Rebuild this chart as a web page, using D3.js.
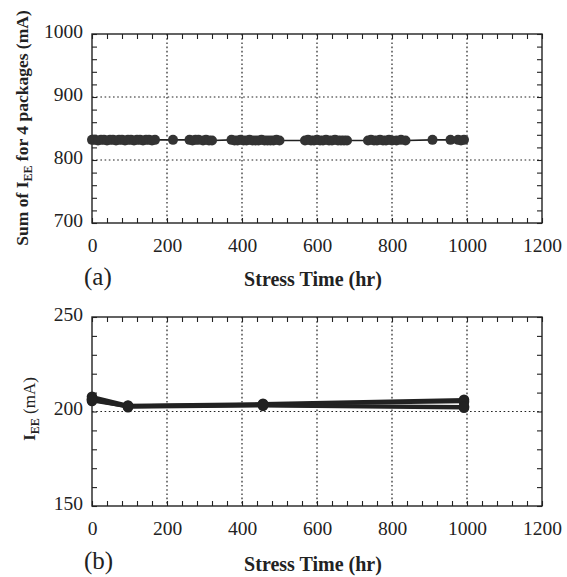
<!DOCTYPE html>
<html>
<head>
<meta charset="utf-8">
<script src="https://cdn.jsdelivr.net/npm/d3@7"></script>
<style>
  body { margin: 0; background: #fff; }
  svg { display: block; }
  text { font-family: "Liberation Serif", "Times New Roman", serif; fill: #222; }
</style>
</head>
<body>
<svg id="chart" width="567" height="577"></svg>
<script>
// ---- Data ----
// Panel (a): stress time (hr) and sum of IEE for 4 packages (mA)
const timeA = [0, 8, 16, 24, 32, 40, 48, 56, 64, 72, 80, 88, 96, 104, 112, 120, 128, 136, 144, 152, 160, 168,
  216,
  260, 268, 276, 284, 296, 304, 312, 320,
  372, 380, 388, 396, 404, 412, 420, 428, 436, 444, 452, 460, 468, 476, 484, 492, 500,
  568, 576, 584, 592, 600, 608, 616, 624, 632, 640, 648, 656, 664, 672, 680,
  736, 744, 752, 760, 768, 776, 784, 792, 800, 812, 824, 836,
  908, 956, 976, 984, 992];
const sumIEE = [832, 832, 831, 832, 832, 831, 832, 832, 831, 832, 832, 831, 832, 832, 831, 832, 832, 831, 832, 832, 831, 832,
  832,
  832, 831, 832, 832, 831, 832, 831, 831,
  832, 831, 831, 832, 831, 831, 832, 831, 831, 831, 832, 831, 831, 831, 831, 832, 831,
  831, 832, 831, 831, 832, 831, 831, 832, 831, 831, 832, 831, 831, 831, 831,
  831, 832, 831, 831, 832, 831, 831, 832, 831, 831, 832, 831,
  832, 832, 832, 831, 832];

// Panel (b): stress time (hr) and IEE per package (mA)
const timeB = [0, 96, 456, 992];
const pkg1 = [207.8, 203.2, 204.1, 206.2];
const pkg2 = [206.6, 202.9, 203.8, 205.2];
const pkg3 = [205.6, 202.6, 203.3, 202.6];
const pkg4 = [206.2, 202.3, 203.0, 202.0];
const seriesB = [pkg1, pkg2, pkg3, pkg4];

// Tick labels
const xTicks = [0, 200, 400, 600, 800, 1000, 1200];
const yTicksA = [700, 800, 900, 1000];
const yTicksB = [150, 200, 250];

// ---- Drawing ----
const svg = d3.select("#chart");
const ink = "#222";

function panel(cfg) {
  const x = d3.scaleLinear().domain([0, 1200]).range([92, 542]);
  const y = d3.scaleLinear().domain(cfg.yDomain).range([cfg.bottom, cfg.top]);
  const g = svg.append("g");

  // grid lines (dotted)
  g.selectAll(".gx").data(xTicks.slice(1, -1)).join("line")
    .attr("x1", d => x(d)).attr("x2", d => x(d))
    .attr("y1", cfg.top).attr("y2", cfg.bottom)
    .attr("stroke", ink).attr("stroke-width", 1.2).attr("stroke-dasharray", "1.6,2.6");
  g.selectAll(".gy").data(cfg.yGrid).join("line")
    .attr("x1", x(0)).attr("x2", x(1200))
    .attr("y1", d => y(d)).attr("y2", d => y(d))
    .attr("stroke", ink).attr("stroke-width", 1.2).attr("stroke-dasharray", "1.6,2.6");

  // minor ticks, inward on all four sides
  const minorX = d3.range(0, 1201, 40);
  const minorY = d3.range(cfg.yDomain[0], cfg.yDomain[1] + 0.001, cfg.yMinor);
  const axStyle = sel => { sel.select(".domain").remove(); sel.selectAll("line").attr("stroke", ink).attr("stroke-width", 1.1); sel.selectAll("text").remove(); };
  g.append("g").attr("transform", `translate(0,${cfg.bottom})`)
    .call(d3.axisBottom(x).tickValues(minorX).tickSize(-5)).call(axStyle);
  g.append("g").attr("transform", `translate(0,${cfg.top})`)
    .call(d3.axisTop(x).tickValues(minorX).tickSize(-5)).call(axStyle);
  g.append("g").attr("transform", `translate(${x(0)},0)`)
    .call(d3.axisLeft(y).tickValues(minorY).tickSize(-5)).call(axStyle);
  g.append("g").attr("transform", `translate(${x(1200)},0)`)
    .call(d3.axisRight(y).tickValues(minorY).tickSize(-5)).call(axStyle);

  // frame
  g.append("rect").attr("x", x(0)).attr("y", cfg.top)
    .attr("width", x(1200) - x(0)).attr("height", cfg.bottom - cfg.top)
    .attr("fill", "none").attr("stroke", ink).attr("stroke-width", 1.4);

  // tick labels
  const xl = g.append("g").attr("transform", `translate(0,${cfg.bottom})`)
    .call(d3.axisBottom(x).tickValues(xTicks).tickSize(0).tickPadding(0).tickFormat(d3.format("d")));
  xl.select(".domain").remove();
  xl.selectAll("text").attr("dy", null).attr("y", cfg.xLabelY - cfg.bottom)
    .style("font-size", "19.5px").attr("fill", ink).style("font-family", "'Liberation Serif', serif");
  const yl = g.append("g").attr("transform", `translate(${x(0)},0)`)
    .call(d3.axisLeft(y).tickValues(cfg.yTicks).tickSize(0).tickPadding(9).tickFormat(d3.format("d")));
  yl.select(".domain").remove();
  yl.selectAll("text").attr("dy", "0.32em").attr("y", -3)
    .style("font-size", "19.5px").attr("fill", ink).style("font-family", "'Liberation Serif', serif");

  // axis title
  svg.append("text").attr("x", 313).attr("y", cfg.titleY).attr("text-anchor", "middle")
    .style("font-size", "20px").style("font-weight", "bold").text("Stress Time (hr)");
  // panel tag
  svg.append("text").attr("x", 84).attr("y", cfg.tagY)
    .style("font-size", "25px").text(cfg.tag);

  return { x, y, g };
}

// Panel (a)
const A = panel({ top: 34, bottom: 223, yDomain: [700, 1000], yGrid: [800, 900], yMinor: 20,
  yTicks: yTicksA, xLabelY: 252, titleY: 286, tagY: 285, tag: "(a)" });
const dataA = timeA.map((t, i) => ({ t, v: sumIEE[i] }));
A.g.append("path").datum(dataA)
  .attr("d", d3.line().x(d => A.x(d.t)).y(d => A.y(d.v)))
  .attr("fill", "none").attr("stroke", ink).attr("stroke-width", 1.6);
A.g.selectAll(".ptA").data(dataA).join("circle")
  .attr("cx", d => A.x(d.t)).attr("cy", d => A.y(d.v)).attr("r", 5)
  .attr("fill", "#333");

const labA = svg.append("text").attr("transform", "translate(28,128) rotate(-90)")
  .attr("text-anchor", "middle").style("font-size", "17.5px").style("font-weight", "bold");
labA.append("tspan").text("Sum of I");
labA.append("tspan").text("EE").style("font-size", "12px").attr("dy", 4);
labA.append("tspan").text(" for 4 packages (mA)").attr("dy", -4);

// Panel (b)
const B = panel({ top: 317, bottom: 506, yDomain: [150, 250], yGrid: [200], yMinor: 10,
  yTicks: yTicksB, xLabelY: 535, titleY: 571, tagY: 569, tag: "(b)" });
seriesB.forEach(s => {
  const d = timeB.map((t, i) => ({ t, v: s[i] }));
  B.g.append("path").datum(d)
    .attr("d", d3.line().x(p => B.x(p.t)).y(p => B.y(p.v)))
    .attr("fill", "none").attr("stroke", ink).attr("stroke-width", 3.4);
  B.g.selectAll(null).data(d).join("circle")
    .attr("cx", p => B.x(p.t)).attr("cy", p => B.y(p.v)).attr("r", 5.3)
    .attr("fill", ink);
});

const labB = svg.append("text").attr("transform", "translate(35,409) rotate(-90)")
  .attr("text-anchor", "middle").style("font-size", "17px").style("font-weight", "bold");
labB.append("tspan").text("I");
labB.append("tspan").text("EE").style("font-size", "12px").attr("dy", 4);
labB.append("tspan").text(" (mA)").attr("dy", -4).style("font-weight", "normal");
</script>
</body>
</html>
